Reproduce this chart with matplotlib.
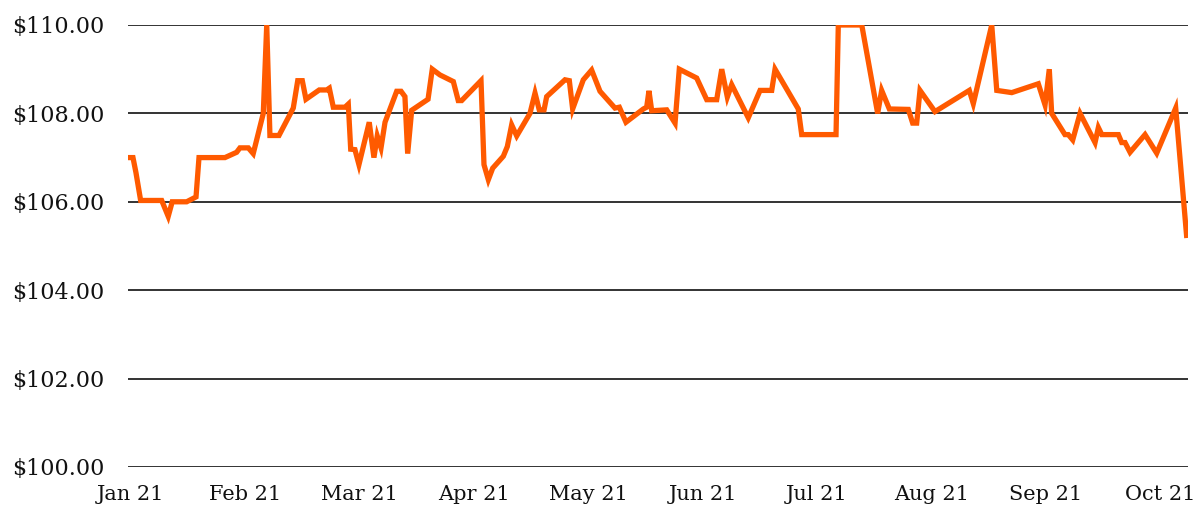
import matplotlib
matplotlib.use("Agg")
import matplotlib.pyplot as plt
from matplotlib.ticker import FuncFormatter

# month index positions (0 = Jan 21, 9 = Oct 21)
months = ["Jan 21", "Feb 21", "Mar 21", "Apr 21", "May 21", "Jun 21",
          "Jul 21", "Aug 21", "Sep 21", "Oct 21"]
y_ticks = [100, 102, 104, 106, 108, 110]

x_pos = [-0.022, 0.022, 0.048, 0.089, 0.273, 0.330, 0.365, 0.491, 0.573, 0.599,
         0.826, 0.928, 0.957, 1.030, 1.073, 1.161, 1.191, 1.219, 1.298, 1.423,
         1.462, 1.502, 1.534, 1.650, 1.715, 1.738, 1.773, 1.875, 1.904, 1.925,
         1.962, 1.997, 2.087, 2.128, 2.157, 2.190, 2.225, 2.327, 2.365, 2.399,
         2.423, 2.458, 2.601, 2.638, 2.705, 2.822, 2.865, 2.895, 3.064, 3.090,
         3.128, 3.166, 3.259, 3.294, 3.332, 3.376, 3.492, 3.536, 3.573, 3.615,
         3.638, 3.798, 3.836, 3.865, 3.958, 4.031, 4.104, 4.235, 4.273, 4.331,
         4.483, 4.512, 4.532, 4.556, 4.687, 4.760, 4.797, 4.949, 5.037, 5.124,
         5.168, 5.217, 5.255, 5.400, 5.503, 5.605, 5.634, 5.837, 5.867, 6.167,
         6.187, 6.392, 6.531, 6.566, 6.633, 6.799, 6.837, 6.872, 6.901, 7.032,
         7.332, 7.367, 7.528, 7.572, 7.703, 7.935, 7.994, 8.031, 8.052, 8.168,
         8.197, 8.236, 8.300, 8.431, 8.460, 8.490, 8.635, 8.664, 8.693, 8.737,
         8.868, 8.970, 9.136, 9.233]

price = [107.00, 107.00, 106.66, 106.03, 106.03, 105.67, 106.00, 106.00, 106.11, 107.00,
         107.00, 107.12, 107.22, 107.22, 107.09, 108.00, 110.00, 107.50, 107.50, 108.12,
         108.74, 108.74, 108.32, 108.53, 108.53, 108.57, 108.14, 108.14, 108.21, 107.19,
         107.18, 106.84, 107.80, 107.00, 107.49, 107.22, 107.80, 108.50, 108.50, 108.38,
         107.09, 108.07, 108.32, 109.00, 108.87, 108.72, 108.29, 108.29, 108.74, 106.84,
         106.50, 106.76, 107.03, 107.25, 107.74, 107.49, 108.00, 108.46, 108.08, 108.08,
         108.38, 108.76, 108.74, 108.10, 108.76, 108.98, 108.50, 108.12, 108.14, 107.80,
         108.10, 108.14, 108.51, 108.06, 108.08, 107.78, 109.00, 108.80, 108.31, 108.31,
         109.00, 108.37, 108.65, 107.90, 108.52, 108.52, 109.00, 108.10, 107.52, 107.52,
         110.00, 110.00, 108.00, 108.52, 108.10, 108.09, 107.78, 107.78, 108.52, 108.04,
         108.52, 108.22, 110.00, 108.52, 108.47, 108.67, 108.19, 109.00, 108.00, 107.52,
         107.52, 107.40, 108.00, 107.34, 107.68, 107.52, 107.52, 107.34, 107.34, 107.12,
         107.52, 107.10, 108.12, 105.18]

FONT = "DejaVu Serif"

fig = plt.figure(figsize=(11.98, 5.12), dpi=100)
ax = fig.add_axes([0.1068, 0.0879, 0.8849, 0.8633])

ax.plot(x_pos, price, color="#ff5a00", linewidth=3.8, solid_joinstyle="miter",
        solid_capstyle="butt", zorder=3)

ax.set_ylim(100, 110)
ax.set_xlim(-0.022, 9.244)
ax.set_yticks(y_ticks)
ax.yaxis.set_major_formatter(FuncFormatter(lambda v, p: f"${v:,.2f}"))
ax.set_xticks(range(len(months)))
ax.set_xticklabels(months)

ax.grid(axis="y", color="#333333", linewidth=1.4, zorder=1)
ax.grid(axis="x", visible=False)
for s in ax.spines.values():
    s.set_visible(False)
ax.tick_params(axis="both", length=0, labelcolor="#111111")
ax.tick_params(axis="y", pad=17, labelsize=16)
ax.tick_params(axis="x", pad=13, labelsize=15)
for lbl in ax.get_xticklabels() + ax.get_yticklabels():
    lbl.set_fontfamily(FONT)

fig.savefig("out.png", dpi=100)
